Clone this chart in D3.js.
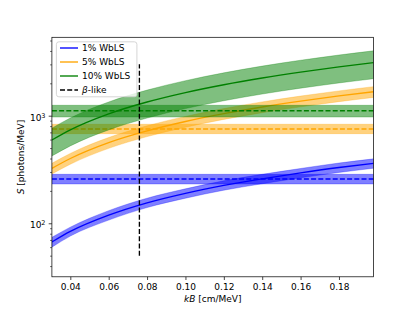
<!DOCTYPE html>
<html>
<head>
<meta charset="utf-8">
<script src="https://cdn.jsdelivr.net/npm/d3@7"></script>
<style>
  body { margin: 0; background: #fff; }
  svg text { font-family: "DejaVu Sans", sans-serif; }
</style>
</head>
<body>
<div id="chart"></div>
<script>
// kB grid [cm/MeV] and light yield S [photons/MeV]
var kB = [0.0304, 0.04, 0.06, 0.08, 0.10, 0.12, 0.14, 0.16, 0.18, 0.198];

var s1 = [67, 84, 119, 155, 190, 225, 259, 294, 330, 361];
var s1Lo = [60, 76, 107, 140, 171, 203, 233, 265, 297, 325];
var s1Hi = [74, 92, 131, 171, 209, 248, 285, 323, 363, 397];

var s5 = [324, 400, 562, 722, 883, 1044, 1205, 1365, 1526, 1671];
var s5Lo = [287, 354, 497, 639, 781, 924, 1066, 1208, 1351, 1479];
var s5Hi = [361, 446, 627, 805, 985, 1164, 1344, 1522, 1701, 1863];

var s10 = [594, 738, 1040, 1340, 1640, 1940, 2240, 2540, 2840, 3109];
var s10Lo = [422, 524, 738, 951, 1164, 1377, 1590, 1803, 2016, 2207];
var s10Hi = [766, 952, 1342, 1729, 2116, 2503, 2890, 3277, 3664, 4011];

// beta-like reference values (horizontal)
var betaS = [258, 752, 1112];
var betaLo = [232, 681, 972];
var betaHi = [285, 832, 1249];

var seriesNames = ["1% WbLS", "5% WbLS", "10% WbLS"];
var colors = ["#0000ff", "#ffa500", "#008000"];

var betaKB = 0.076;
var betaRange = [50, 3000];

var xTicks = [0.04, 0.06, 0.08, 0.10, 0.12, 0.14, 0.16, 0.18];
var yMajor = [100, 1000];
var yMinor = [40, 50, 60, 70, 80, 90, 200, 300, 400, 500, 600, 700, 800, 900, 2000, 3000, 4000, 5000];

var width = 415, height = 311;
var m = {left: 51.9, right: 373.5, top: 37.3, bottom: 276.8};

var svg = d3.select("#chart").append("svg").attr("width", width).attr("height", height);

var x = d3.scaleLinear().domain([0.0304, 0.198]).range([m.left, m.right]);
var y = d3.scaleLog().domain([31.8, 5355]).range([m.bottom, m.top]);

svg.append("clipPath").attr("id", "clip").append("rect")
	.attr("x", m.left).attr("y", m.top).attr("width", m.right - m.left).attr("height", m.bottom - m.top);

var plot = svg.append("g").attr("clip-path", "url(#clip)");

var series = [
	{mid: s1, lo: s1Lo, hi: s1Hi},
	{mid: s5, lo: s5Lo, hi: s5Hi},
	{mid: s10, lo: s10Lo, hi: s10Hi}
];

var area = d3.area().curve(d3.curveMonotoneX)
	.x(function(d){ return x(d.k); })
	.y0(function(d){ return y(d.lo); })
	.y1(function(d){ return y(d.hi); });
var line = d3.line().curve(d3.curveMonotoneX)
	.x(function(d){ return x(d.k); })
	.y(function(d){ return y(d.s); });

var dash = "5,2.2";

series.forEach(function(s, i){
	var pts = kB.map(function(k, j){ return {k: k, s: s.mid[j], lo: s.lo[j], hi: s.hi[j]}; });
	plot.append("path").datum(pts).attr("d", area)
		.style("fill", colors[i]).style("fill-opacity", 0.5)
		.style("stroke", colors[i]).style("stroke-opacity", 0.35).style("stroke-width", 0.8);
	plot.append("path").datum(pts).attr("d", line)
		.style("fill", "none").style("stroke", colors[i]).style("stroke-width", 1.35);

	// beta-like band + dashed line
	var xs = x.domain();
	var hb = [{k: xs[0], lo: betaLo[i], hi: betaHi[i]}, {k: xs[1], lo: betaLo[i], hi: betaHi[i]}];
	plot.append("path").datum(hb).attr("d", d3.area().x(function(d){ return x(d.k); })
			.y0(function(d){ return y(d.lo); }).y1(function(d){ return y(d.hi); }))
		.style("fill", colors[i]).style("fill-opacity", 0.5)
		.style("stroke", colors[i]).style("stroke-opacity", 0.35).style("stroke-width", 0.8);
	plot.append("line")
		.attr("x1", x(xs[0])).attr("x2", x(xs[1]))
		.attr("y1", y(betaS[i])).attr("y2", y(betaS[i]))
		.style("stroke", colors[i]).style("stroke-width", 1.35).style("stroke-dasharray", dash);
});

// vertical beta-like kB
plot.append("line")
	.attr("x1", x(betaKB)).attr("x2", x(betaKB))
	.attr("y1", y(betaRange[0])).attr("y2", y(betaRange[1]))
	.style("stroke", "#000").style("stroke-width", 1.35).style("stroke-dasharray", dash);

// axes
var xAxis = svg.append("g").attr("transform", "translate(0," + m.bottom + ")")
	.call(d3.axisBottom(x).tickValues(xTicks).tickFormat(d3.format(".2f")).tickSize(3.2).tickPadding(3.2));
xAxis.select(".domain").remove();
xAxis.selectAll("text").style("font-size", "9px").style("fill", "#000");
xAxis.selectAll("line").style("stroke-width", 0.72);

var yAxis = svg.append("g").attr("transform", "translate(" + m.left + ",0)")
	.call(d3.axisLeft(y).tickValues(yMajor).tickFormat(function(){ return ""; }).tickSize(3.2).tickPadding(3.2));
yAxis.select(".domain").remove();
yAxis.selectAll("line").style("stroke-width", 0.72);
yAxis.selectAll(".tick text").each(function(d){
	var t = d3.select(this).style("font-size", "9px").style("fill", "#000");
	t.append("tspan").text("10");
	t.append("tspan").attr("dy", "-0.45em").style("font-size", "6.5px").text(String(Math.round(Math.log10(d))));
}).attr("dy", "0.5em");

var yMin = svg.append("g").attr("transform", "translate(" + m.left + ",0)")
	.call(d3.axisLeft(y).tickValues(yMinor).tickFormat(function(){ return ""; }).tickSize(1.8));
yMin.select(".domain").remove();
yMin.selectAll("line").style("stroke-width", 0.6);

// frame
svg.append("rect")
	.attr("x", m.left).attr("y", m.top).attr("width", m.right - m.left).attr("height", m.bottom - m.top)
	.style("fill", "none").style("stroke", "#000").style("stroke-width", 0.72);

// axis labels
var xl = svg.append("text").attr("x", (m.left + m.right) / 2).attr("y", 302)
	.attr("text-anchor", "middle").style("font-size", "9px");
xl.append("tspan").style("font-style", "italic").text("kB");
xl.append("tspan").text(" [cm/MeV]");

var yl = svg.append("text").attr("transform", "translate(24," + ((m.top + m.bottom) / 2) + ") rotate(-90)")
	.attr("text-anchor", "middle").style("font-size", "9px");
yl.append("tspan").style("font-style", "italic").text("S");
yl.append("tspan").text(" [photons/MeV]");

// legend
var leg = svg.append("g");
leg.append("rect").attr("x", 56.4).attr("y", 41.8).attr("width", 80.5).attr("height", 55)
	.attr("rx", 2.5).style("fill", "#fff").style("fill-opacity", 0.8)
	.style("stroke", "#cccccc").style("stroke-width", 0.8);
var legItems = seriesNames.map(function(n, i){ return {name: n, color: colors[i], dashed: false}; });
legItems.push({name: "β-like", color: "#000", dashed: true});
legItems.forEach(function(d, i){
	var cy = 48 + i * 14;
	leg.append("line").attr("x1", 60).attr("x2", 78).attr("y1", cy).attr("y2", cy)
		.style("stroke", d.color).style("stroke-width", 1.35)
		.style("stroke-dasharray", d.dashed ? dash : null);
	var t = leg.append("text").attr("x", 82).attr("y", cy).attr("dy", "0.35em").style("font-size", "9px");
	if(d.dashed){
		t.append("tspan").style("font-style", "italic").text("β");
		t.append("tspan").text("-like");
	}else{
		t.text(d.name);
	}
});
</script>
</body>
</html>
